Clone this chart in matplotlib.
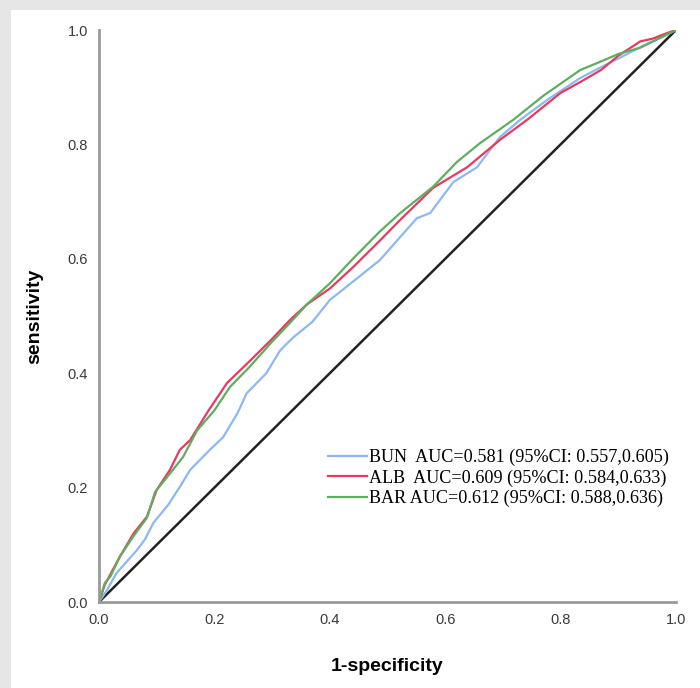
import matplotlib.pyplot as plt
from matplotlib.patches import Rectangle

# ROC curves (1-specificity, sensitivity)
bun_fpr = [0.0, 0.014, 0.03, 0.066, 0.08, 0.094, 0.12, 0.14, 0.158, 0.192, 0.215, 0.24, 0.256,
           0.29, 0.314, 0.336, 0.37, 0.40, 0.44, 0.487, 0.522, 0.551, 0.574, 0.614, 0.655,
           0.695, 0.73, 0.78, 0.834, 0.87, 0.90, 0.938, 0.97, 1.0]
bun_tpr = [0.0, 0.021, 0.05, 0.091, 0.11, 0.138, 0.17, 0.201, 0.231, 0.266, 0.288, 0.33, 0.365,
           0.40, 0.44, 0.462, 0.49, 0.528, 0.56, 0.598, 0.638, 0.671, 0.680, 0.734, 0.760,
           0.813, 0.843, 0.88, 0.916, 0.935, 0.950, 0.970, 0.985, 1.0]

alb_fpr = [0.0, 0.01, 0.036, 0.06, 0.083, 0.10, 0.123, 0.14, 0.158, 0.19, 0.222, 0.26, 0.30,
           0.331, 0.36, 0.40, 0.44, 0.487, 0.522, 0.579, 0.638, 0.695, 0.742, 0.80, 0.834,
           0.87, 0.90, 0.938, 0.96, 0.98, 1.0]
alb_tpr = [0.0, 0.03, 0.079, 0.12, 0.149, 0.196, 0.231, 0.266, 0.283, 0.335, 0.383, 0.42, 0.46,
           0.493, 0.52, 0.548, 0.585, 0.632, 0.668, 0.724, 0.760, 0.808, 0.843, 0.89, 0.909,
           0.93, 0.955, 0.98, 0.985, 0.993, 1.0]

bar_fpr = [0.0, 0.01, 0.02, 0.036, 0.059, 0.083, 0.097, 0.128, 0.146, 0.17, 0.20, 0.227, 0.26,
           0.30, 0.331, 0.36, 0.40, 0.44, 0.487, 0.522, 0.579, 0.62, 0.66, 0.718, 0.77, 0.834,
           0.87, 0.90, 0.938, 0.97, 1.0]
bar_tpr = [0.0, 0.033, 0.045, 0.079, 0.114, 0.147, 0.192, 0.231, 0.254, 0.30, 0.335, 0.376, 0.41,
           0.455, 0.488, 0.52, 0.557, 0.60, 0.648, 0.680, 0.726, 0.769, 0.802, 0.843, 0.885, 0.930,
           0.945, 0.958, 0.969, 0.985, 1.0]

labels = ["BUN  AUC=0.581 (95%CI: 0.557,0.605)",
          "ALB  AUC=0.609 (95%CI: 0.584,0.633)",
          "BAR AUC=0.612 (95%CI: 0.588,0.636)"]
colors = ["#8db8f2", "#e8395f", "#5fae5f"]
ticks = [0.0, 0.2, 0.4, 0.6, 0.8, 1.0]

fig = plt.figure(figsize=(7, 6.88), dpi=100, facecolor="#e6e6e6")
fig.add_artist(Rectangle((11/700, 0), 1, 678/688, transform=fig.transFigure,
                         facecolor="white", edgecolor="none", zorder=-5))
ax = fig.add_axes([99/700, 86/688, 577/700, 572/688])
ax.set_facecolor("white")

for fpr, tpr, lab, col in zip([bun_fpr, alb_fpr, bar_fpr], [bun_tpr, alb_tpr, bar_tpr], labels, colors):
    ax.plot(fpr, tpr, color=col, lw=1.6, label=lab)
ax.plot([0, 1], [0, 1], color="#222222", lw=1.8, zorder=1)

ax.set_xlim(0, 1)
ax.set_ylim(0, 1)
ax.set_xticks(ticks)
ax.set_yticks(ticks)
ax.set_xticklabels([f"{t:.1f}" for t in ticks])
ax.set_yticklabels([f"{t:.1f}" for t in ticks])
ax.tick_params(length=0, labelsize=10.5, colors="#3a3a3a", pad=8)
for lab in ax.get_xticklabels() + ax.get_yticklabels():
    lab.set_fontfamily("Liberation Sans")
for s in ["top", "right"]:
    ax.spines[s].set_visible(False)
for s in ["left", "bottom"]:
    ax.spines[s].set_color("#999999")
    ax.spines[s].set_linewidth(2)

ax.set_xlabel("1-specificity", fontsize=14, fontweight="bold", family="Liberation Sans", labelpad=22)
ax.set_ylabel("sensitivity", fontsize=14, fontweight="bold", family="Liberation Sans", labelpad=17)

leg = ax.legend(loc="center left", bbox_to_anchor=(0.385, 0.217), frameon=False,
                prop={"family": "Liberation Serif", "size": 13.1}, handlelength=2.1,
                handletextpad=0.15, labelspacing=0.18, borderaxespad=0)

fig.savefig("out.png", dpi=100, facecolor=fig.get_facecolor())
